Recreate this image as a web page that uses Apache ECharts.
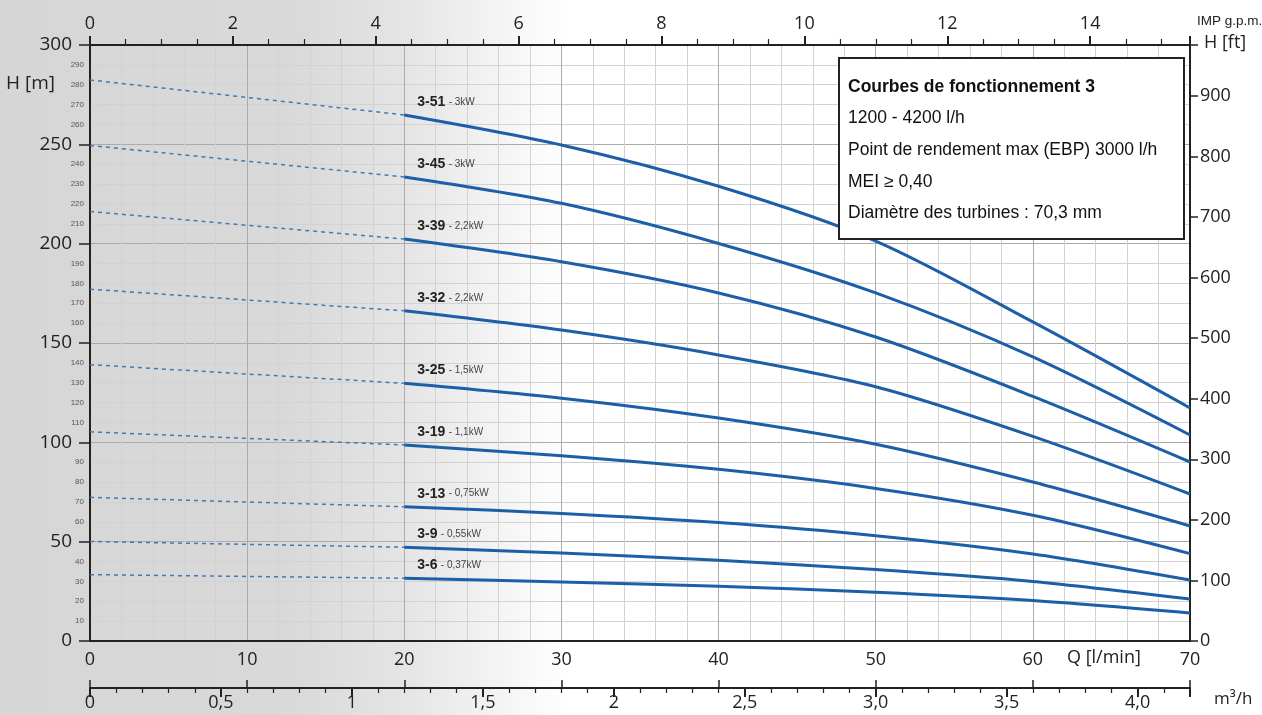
<!DOCTYPE html>
<html><head><meta charset="utf-8">
<script src="https://cdn.jsdelivr.net/npm/echarts@6/dist/echarts.min.js"></script>
<style>
html,body{margin:0;padding:0;width:1262px;height:715px;overflow:hidden;
background:linear-gradient(to right,#d6d6d6 0px,#d9d9d9 290px,#e4e4e4 400px,#f4f4f4 500px,#ffffff 570px,#ffffff 1262px);}
#c{width:1262px;height:715px;}
</style></head><body><div id="c"></div>
<script>
// ---- data ----
const qFlow = [20, 30, 40, 50, 60, 70];          // l/min, solid part of curves
const qDashed = [0, 20];                         // l/min, dashed part
const pumpNames = ['3-51','3-45','3-39','3-32','3-25','3-19','3-13','3-9','3-6'];
const pumpPower = ['3kW','3kW','2,2kW','2,2kW','1,5kW','1,1kW','0,75kW','0,55kW','0,37kW'];
const shutoffHead = [282.4, 249.4, 216.2, 177.1, 139.1, 105.3, 72.3, 50.1, 33.4]; // H at Q=0
const h_3_51 = [264.8, 249.7, 228.9, 201.3, 160.6, 117.3];
const h_3_45 = [233.6, 220.3, 200.1, 175.2, 143.0, 103.7];
const h_3_39 = [202.3, 190.9, 175.2, 153.0, 123.1, 90.1];
const h_3_32 = [166.2, 156.5, 144.0, 128.0, 103.0, 74.0];
const h_3_25 = [129.7, 122.2, 112.2, 99.0, 80.0, 57.9];
const h_3_19 = [98.7, 93.2, 86.4, 76.8, 63.3, 44.0];
const h_3_13 = [67.6, 64.2, 59.6, 53.0, 43.8, 30.7];
const h_3_9  = [47.2, 44.3, 40.6, 36.0, 30.0, 21.1];
const h_3_6  = [31.6, 29.7, 27.5, 24.6, 20.4, 14.1];
const headCurves = [h_3_51, h_3_45, h_3_39, h_3_32, h_3_25, h_3_19, h_3_13, h_3_9, h_3_6];
const m3hLabels = ['0','0,5','1','1,5','2','2,5','3,0','3,5','4,0'];
const infoLines = ['Courbes de fonctionnement 3','1200 - 4200 l/h','Point de rendement max (EBP) 3000 l/h','MEI ≥ 0,40','Diamètre des turbines : 70,3 mm'];

// ---- styles ----
const NUM = "'Open Sans', sans-serif";
const TXT = "'Liberation Sans', Arial, sans-serif";
const dark = '#222';
const majorGrid = '#ababab';
const minorGrid = '#d2d2d2';
const curveColor = '#1c5fa8';
const dashColor = '#4479b3';

const series = [];
pumpNames.forEach((name, i) => {
  const hs = headCurves[i];
  series.push({
    type: 'line', name: name + ' dashed', silent: true,
    data: [[qDashed[0], shutoffHead[i]], [qDashed[1], hs[0]]],
    showSymbol: false, symbol: 'none',
    lineStyle: { color: dashColor, width: 1.5, type: [4, 4] },
    z: 3
  });
  series.push({
    type: 'line', name: name, silent: true,
    data: qFlow.map((q, k) => {
      const item = { value: [q, hs[k]] };
      if (k === 0) {
        item.label = {
          show: true,
          position: [13, -13],
          align: 'left', verticalAlign: 'middle',
          formatter: '{n|' + name + '} {p|- ' + pumpPower[i] + '}',
          rich: {
            n: { fontFamily: TXT, fontWeight: 'bold', fontSize: 14, color: dark },
            p: { fontFamily: TXT, fontSize: 10, color: '#444' }
          }
        };
      }
      return item;
    }),
    smooth: 0.3,
    symbol: 'circle', symbolSize: 0, showSymbol: true,
    lineStyle: { color: curveColor, width: 3 },
    itemStyle: { color: curveColor },
    z: 4
  });
});

const gpmMax = 70 / 4.54609;

const option = {
  animation: false,
  backgroundColor: 'transparent',
  grid: { left: 90, right: 72, top: 45, bottom: 74, containLabel: false },
  xAxis: [
    { // Q l/min bottom
      type: 'value', position: 'bottom', min: 0, max: 70, interval: 10,
      axisLine: { show: true, onZero: false, lineStyle: { color: dark, width: 2 } },
      axisTick: { show: false },
      axisLabel: { fontFamily: NUM, fontSize: 18, color: dark, margin: 10 },
      splitLine: { show: true, lineStyle: { color: majorGrid, width: 1 } },
      minorTick: { show: false, splitNumber: 5 },
      minorSplitLine: { show: true, lineStyle: { color: minorGrid, width: 1 } }
    },
    { // m3/h
      type: 'value', position: 'bottom', offset: 47, min: 0, max: 4.2, interval: 0.5,
      axisLine: { show: true, onZero: false, lineStyle: { color: dark, width: 2 } },
      axisTick: { show: true, inside: false, length: 9, lineStyle: { color: dark, width: 2 } },
      minorTick: { show: true, splitNumber: 5, length: 5, lineStyle: { color: dark, width: 1.2 } },
      axisLabel: {
        fontFamily: NUM, fontSize: 18, color: dark, margin: 6,
        formatter: v => { const k = Math.round(v * 2); return (Math.abs(v * 2 - k) < 1e-6 && k < m3hLabels.length) ? m3hLabels[k] : ''; }
      },
      splitLine: { show: false }
    },
    { // l/min ticks upward on the second line
      type: 'value', position: 'bottom', offset: 47, min: 0, max: 70, interval: 10,
      axisLine: { show: false, onZero: false },
      axisTick: { show: true, inside: true, length: 8, lineStyle: { color: dark, width: 1.5 } },
      axisLabel: { show: false },
      splitLine: { show: false }
    },
    { // IMP g.p.m. top
      type: 'value', position: 'top', min: 0, max: gpmMax, interval: 2,
      axisLine: { show: true, onZero: false, lineStyle: { color: dark, width: 2 } },
      axisTick: { show: true, length: 9, lineStyle: { color: dark, width: 2 } },
      minorTick: { show: true, splitNumber: 4, length: 6, lineStyle: { color: dark, width: 1.2 } },
      axisLabel: {
        fontFamily: NUM, fontSize: 18, color: dark, margin: 12,
        formatter: v => (Math.abs(v - Math.round(v)) < 1e-6 ? String(Math.round(v)) : '')
      },
      splitLine: { show: false }
    }
  ],
  yAxis: [
    { // H [m] major
      type: 'value', position: 'left', min: 0, max: 300, interval: 50,
      axisLine: { show: true, onZero: false, lineStyle: { color: dark, width: 2 } },
      axisTick: { show: true, length: 11, lineStyle: { color: dark, width: 1.5 } },
      axisLabel: { fontFamily: NUM, fontSize: 19, color: dark, margin: 18 },
      splitLine: { show: true, lineStyle: { color: majorGrid, width: 1 } },
      minorTick: { show: false, splitNumber: 5 },
      minorSplitLine: { show: true, lineStyle: { color: minorGrid, width: 1 } }
    },
    { // H [m] minor labels
      type: 'value', position: 'left', min: 0, max: 300, interval: 10,
      axisLine: { show: false }, axisTick: { show: false },
      axisLabel: {
        fontFamily: TXT, fontSize: 8, color: '#555', margin: 6,
        formatter: v => (v % 50 === 0 ? '' : String(v))
      },
      splitLine: { show: false }
    },
    { // H [ft]
      type: 'value', position: 'right', min: 0, max: 300 / 0.3048, interval: 100,
      axisLine: { show: true, onZero: false, lineStyle: { color: dark, width: 2 } },
      axisTick: { show: true, length: 8, lineStyle: { color: dark, width: 1.5 } },
      axisLabel: {
        fontFamily: NUM, fontSize: 18, color: dark, margin: 10,
        formatter: v => (Math.abs(v % 100) < 1e-6 ? String(v) : '')
      },
      splitLine: { show: false }
    }
  ],
  graphic: [
    { type: 'text', left: 6, top: 74, style: { text: 'H [m]', fontFamily: NUM, fontSize: 19, fill: dark } },
    { type: 'text', left: 1197, top: 14, style: { text: 'IMP g.p.m.', fontFamily: TXT, fontSize: 13.5, fill: dark } },
    { type: 'text', left: 1204, top: 34, style: { text: 'H [ft]', fontFamily: NUM, fontSize: 18, fill: dark } },
    { type: 'text', left: 1067, top: 649, style: { text: 'Q [l/min]', fontFamily: NUM, fontSize: 18, fill: dark } },
    { type: 'text', left: 1214, top: 691, style: { text: 'm³/h', fontFamily: NUM, fontSize: 17, fill: dark } },
    { type: 'rect', left: 838, top: 57, z: 100, shape: { x: 0, y: 0, width: 345, height: 181 }, style: { fill: '#fff', stroke: '#222', lineWidth: 2 } },
    { type: 'text', left: 848, top: 78, z: 101, style: { text: infoLines[0], fontFamily: TXT, fontWeight: 'bold', fontSize: 17.5, fill: '#111' } },
    { type: 'text', left: 848, top: 109, z: 101, style: { text: infoLines[1], fontFamily: TXT, fontSize: 17.5, fill: '#111' } },
    { type: 'text', left: 848, top: 141, z: 101, style: { text: infoLines[2], fontFamily: TXT, fontSize: 17.5, fill: '#111' } },
    { type: 'text', left: 848, top: 173, z: 101, style: { text: infoLines[3], fontFamily: TXT, fontSize: 17.5, fill: '#111' } },
    { type: 'text', left: 848, top: 204, z: 101, style: { text: infoLines[4], fontFamily: TXT, fontSize: 17.5, fill: '#111' } }
  ],
  series: series
};

const chart = echarts.init(document.getElementById('c'), null, { renderer: 'canvas' });
chart.setOption(option);
</script></body></html>
